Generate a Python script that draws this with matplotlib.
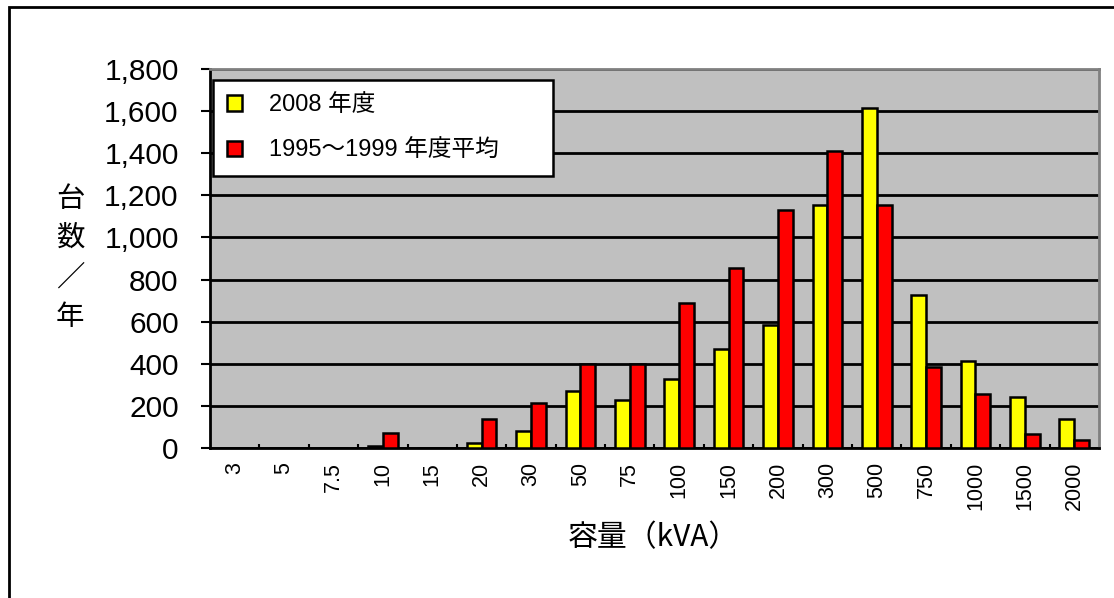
import matplotlib
matplotlib.use("Agg")
import matplotlib.pyplot as plt
import numpy as np
from matplotlib.ticker import FuncFormatter, FixedLocator
from matplotlib.patches import Rectangle

plt.rcParams['font.family'] = ['Liberation Sans', 'Noto Sans CJK JP', 'DejaVu Sans']

categories = ['3', '5', '7.5', '10', '15', '20', '30', '50', '75', '100',
              '150', '200', '300', '500', '750', '1000', '1500', '2000']
fy2008 = [0, 0, 0, 10, 0, 25, 82, 270, 226, 328, 469, 585, 1155, 1613, 729, 415, 242, 140]
avg_1995_1999 = [0, 0, 0, 69, 0, 140, 213, 398, 400, 687, 857, 1129, 1410, 1155, 387, 257, 67, 37]
series_labels = ['2008 年度', '1995～1999 年度平均']
yticks = list(range(0, 1801, 200))

fig = plt.figure(figsize=(11.14, 5.98), dpi=100)
ax = fig.add_axes([0.1885, 0.2508, 0.7980, 0.6338])
ax.set_facecolor('#c0c0c0')

x = np.arange(len(categories))
w = 0.3
ax.bar(x - w / 2, fy2008, w, color='#ffff00', edgecolor='black', linewidth=1.8,
       label=series_labels[0], zorder=3)
ax.bar(x + w / 2, avg_1995_1999, w, color='#ff0000', edgecolor='black', linewidth=1.8,
       label=series_labels[1], zorder=3)

ax.set_xlim(-0.5, len(categories) - 0.5)
ax.set_ylim(0, 1800)
ax.set_yticks(yticks)
ax.yaxis.set_major_formatter(FuncFormatter(lambda v, p: f'{int(v):,}'))
ax.yaxis.grid(True, color='black', linewidth=2)
ax.set_axisbelow(True)
ax.tick_params(axis='y', direction='out', length=6.5, width=1.5, pad=16, labelsize=21.5)

# x: ticks at boundaries, labels at centers
ax.xaxis.set_major_locator(FixedLocator(np.arange(0.5, len(categories) - 1, 1)))
ax.xaxis.set_major_formatter(FuncFormatter(lambda v, p: ''))
ax.xaxis.set_minor_locator(FixedLocator(x))
ax.set_xticks(x, categories, minor=True)
ax.tick_params(axis='x', which='major', direction='in', length=3, width=1.5)
ax.tick_params(axis='x', which='minor', length=0, pad=10, labelsize=15.5, labelrotation=90)

for s in ['left', 'bottom']:
    ax.spines[s].set_color('black')
    ax.spines[s].set_linewidth(2)
for s in ['top', 'right']:
    ax.spines[s].set_color('#808080')
    ax.spines[s].set_linewidth(2)

leg = ax.legend(loc='upper left', bbox_to_anchor=(0.0034, 0.7256, 0.383, 0.2454),
                mode='expand', fontsize=17, fancybox=False, edgecolor='black',
                framealpha=1, borderaxespad=0, handlelength=0.62, handleheight=0.62,
                handletextpad=1.15, labelspacing=1.0, borderpad=0.6)
leg.get_frame().set_linewidth(1.8)

fig.text(70 / 1114, 1 - 258 / 598, '台\n数\n／\n年', fontsize=20.5, ha='center',
         va='center', linespacing=1.42, family=['Noto Sans CJK JP'])
fig.text(653 / 1114, 1 - 538 / 598, '容量（kVA）', fontsize=21.5, ha='center', va='center',
         family=['Noto Sans CJK JP'])

top = 1 - 7 / 598
fig.patches.append(Rectangle((9 / 1114, -0.2), 1.2, top + 0.2,
                             transform=fig.transFigure, fill=False,
                             edgecolor='black', linewidth=2, clip_on=False))

fig.savefig('out.png', dpi=100)
